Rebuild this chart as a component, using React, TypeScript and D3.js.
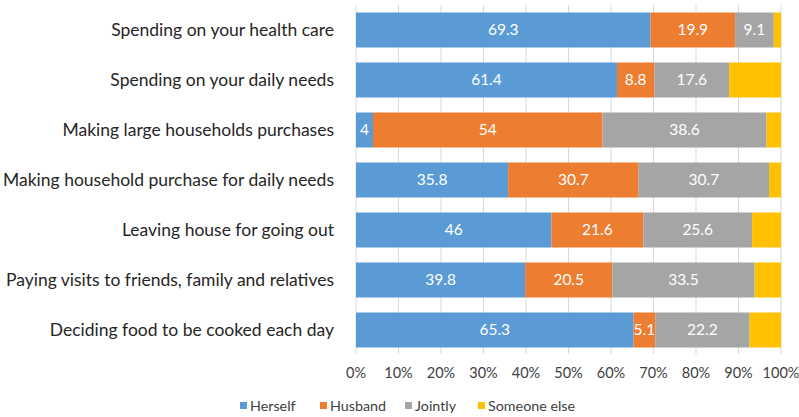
import React from "react";
import * as d3 from "d3";

const categories = [
  "Spending on your health care",
  "Spending on your daily needs",
  "Making large households purchases",
  "Making household purchase for daily needs",
  "Leaving house for going out",
  "Paying visits to friends, family and relatives",
  "Deciding food to be cooked each day",
];
const seriesNames = ["Herself", "Husband", "Jointly", "Someone else"];
const herself = [69.3, 61.4, 4, 35.8, 46, 39.8, 65.3];
const husband = [19.9, 8.8, 54, 30.7, 21.6, 20.5, 5.1];
const jointly = [9.1, 17.6, 38.6, 30.7, 25.6, 33.5, 22.2];
const someoneElse = [1.7, 12.2, 3.4, 2.8, 6.8, 6.2, 7.4];
const tickValues = [0, 10, 20, 30, 40, 50, 60, 70, 80, 90, 100];
const colors = ["#5B9BD5", "#ED7D31", "#A5A5A5", "#FFC000"];
const showLabel = [true, true, true, false];

const W = 799;
const H = 417;
const FONT = "Lato, 'Open Sans', sans-serif";

export default function App() {
  const x = d3.scaleLinear().domain([0, 100]).range([356, 781]);
  const y = d3.scaleBand<string>().domain(categories).range([5, 355]).paddingInner(0.3).paddingOuter(0.15);
  const rows = categories.map((c, i) => ({
    cat: c,
    Herself: herself[i],
    Husband: husband[i],
    Jointly: jointly[i],
    "Someone else": someoneElse[i],
  }));
  const stack = d3.stack<any>().keys(seriesNames);
  const layers = stack(rows);

  const legendX = [240, 320, 405, 478];

  return (
    <div style={{ position: "absolute", top: 0, left: 0 }}>
      <svg width={W} height={H} style={{ display: "block", background: "#fff" }} fontFamily={FONT}>
        {tickValues.map((t) => (
          <line key={t} x1={x(t)} x2={x(t)} y1={5} y2={354} stroke="#D9D9D9" strokeWidth={1} />
        ))}
        {layers.map((layer, si) => (
          <g key={layer.key} fill={colors[si]}>
            {layer.map((d, i) => {
              const x0 = x(d[0]);
              const x1 = x(d[1]);
              const yy = y(categories[i])!;
              const bw = y.bandwidth();
              return (
                <g key={i}>
                  <rect x={x0} y={yy} width={x1 - x0} height={bw} />
                  {showLabel[si] && (
                    <text
                      x={(x0 + x1) / 2}
                      y={yy + bw / 2}
                      dy="0.35em"
                      textAnchor="middle"
                      fill="#fff"
                      fontSize={15.5}
                    >
                      {d.data[layer.key]}
                    </text>
                  )}
                </g>
              );
            })}
          </g>
        ))}
        {categories.map((c) => (
          <text
            key={c}
            x={334}
            y={y(c)! + y.bandwidth() / 2}
            dy="0.35em"
            textAnchor="end"
            fontSize={17.5}
            fill="#262626"
          >
            {c}
          </text>
        ))}
        {tickValues.map((t) => (
          <text key={t} x={x(t)} y={373} dy="0.35em" textAnchor="middle" fontSize={14.5} fill="#404040">
            {t + "%"}
          </text>
        ))}
        {seriesNames.map((s, i) => (
          <g key={s}>
            <rect x={legendX[i]} y={402} width={7} height={7} fill={colors[i]} />
            <text x={legendX[i] + 10} y={406} dy="0.35em" fontSize={14.3} fill="#404040">
              {s}
            </text>
          </g>
        ))}
      </svg>
    </div>
  );
}
